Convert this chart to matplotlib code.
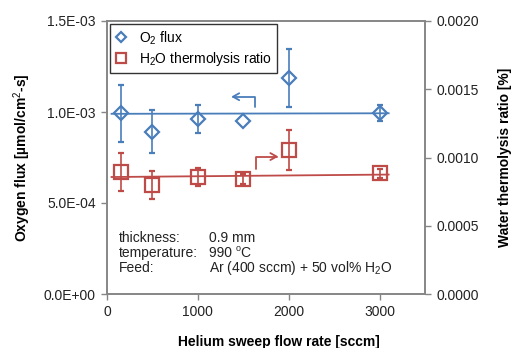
import numpy as np
import matplotlib
matplotlib.use("Agg")
import matplotlib.pyplot as plt
from matplotlib.lines import Line2D
from matplotlib.transforms import offset_copy

plt.rcParams['font.family'] = ['Liberation Sans', 'DejaVu Sans']
plt.rcParams['mathtext.fontset'] = 'custom'
plt.rcParams['mathtext.rm'] = 'Liberation Sans'
plt.rcParams['mathtext.it'] = 'Liberation Sans:italic'
plt.rcParams['mathtext.bf'] = 'Liberation Sans:bold'

# Helium sweep flow rates [sccm]
flow = [150, 500, 1000, 1500, 2000, 3000]

# Oxygen flux [umol/cm2-s] and its error
o2_flux = [0.993e-3, 0.892e-3, 0.962e-3, 0.950e-3, 1.185e-3, 0.993e-3]
o2_err = [0.157e-3, 0.120e-3, 0.077e-3, np.nan, 0.160e-3, 0.045e-3]

# Water thermolysis ratio [%] and its error
h2o_ratio = [0.892e-3, 0.799e-3, 0.859e-3, 0.842e-3, 1.055e-3, 0.883e-3]
h2o_err = [0.140e-3, 0.105e-3, 0.066e-3, 0.037e-3, 0.143e-3, 0.030e-3]

# Trend lines
trend_x = [50, 3100]
o2_trend = [0.990e-3, 0.993e-3]
h2o_trend = [0.857e-3, 0.875e-3]

xticks = [0, 1000, 2000, 3000]
left_ticks = [0.0, 5.0e-4, 1.0e-3, 1.5e-3]
left_ticklabels = ['0.0E+00', '5.0E-04', '1.0E-03', '1.5E-03']
right_ticks = [0.0, 0.0005, 0.0010, 0.0015, 0.0020]
right_ticklabels = ['0.0000', '0.0005', '0.0010', '0.0015', '0.0020']

BLUE = '#4A7EBB'
RED = '#BE4B48'
GREY = '#868686'
TXT = '#222222'
FS = 10

fig = plt.figure(figsize=(5.14, 3.48), dpi=100)
ax = fig.add_axes([107/514, 1 - 294/348, 318/514, 273/348])
ax2 = ax.twinx()

# O2 flux
ax.plot(trend_x, o2_trend, color=BLUE, lw=1.3, zorder=2)
ax.errorbar(flow, o2_flux, yerr=o2_err, fmt='D', ms=7.6, mfc='none',
            mec=BLUE, mew=1.6, ecolor=BLUE, elinewidth=1.2, capsize=2.2,
            capthick=1.2, zorder=3)

# H2O thermolysis ratio
ax2.plot(trend_x, h2o_trend, color=RED, lw=1.3, zorder=2)
ax2.errorbar(flow, h2o_ratio, yerr=h2o_err, fmt='s', ms=10.5, mfc='none',
             mec=RED, mew=1.6, ecolor=RED, elinewidth=1.2, capsize=2.2,
             capthick=1.2, zorder=3)

# Arrows indicating the axis each series belongs to
ax.annotate('', xy=(1366, 1.084e-3), xytext=(1630, 1.026e-3),
            arrowprops=dict(arrowstyle='->,head_length=0.45,head_width=0.25',
                            connectionstyle='angle,angleA=90,angleB=0,rad=0',
                            color=BLUE, lw=1.3, shrinkA=0, shrinkB=0))
ax2.annotate('', xy=(1887, 1.007e-3), xytext=(1635, 0.916e-3),
             arrowprops=dict(arrowstyle='->,head_length=0.45,head_width=0.25',
                             connectionstyle='angle,angleA=90,angleB=0,rad=0',
                             color=RED, lw=1.3, shrinkA=0, shrinkB=0))

ax.set_xlim(0, 3500)
ax.set_ylim(0, 1.5e-3)
ax2.set_ylim(0, 0.002)

ax.set_xticks(xticks)
ax.set_xticklabels([str(v) for v in xticks], fontsize=FS)
ax.set_yticks(left_ticks)
ax.set_yticklabels(left_ticklabels, fontsize=FS)
ax2.set_yticks(right_ticks)
ax2.set_yticklabels(right_ticklabels, fontsize=FS)

for a in (ax, ax2):
    for s in a.spines.values():
        s.set_color(GREY)
        s.set_linewidth(1.2)
    a.tick_params(axis='both', direction='out', length=4, width=1.0,
                  color=GREY, labelcolor=TXT, pad=4)

ax.set_xlabel('Helium sweep flow rate [sccm]', fontsize=FS, fontweight='bold')
ax.xaxis.set_label_coords(0.541, -0.152)
ax.set_ylabel('Oxygen flux [µmol/cm$^{2}$-s]', fontsize=FS, fontweight='bold',
              labelpad=8)
ax2.set_ylabel('Water thermolysis ratio [%]', fontsize=FS, fontweight='bold',
               labelpad=14)

handles = [
    Line2D([], [], ls='none', marker='D', ms=5.5, mfc='none', mec=BLUE, mew=1.6),
    Line2D([], [], ls='none', marker='s', ms=6.5, mfc='none', mec=RED, mew=1.6),
]
leg = ax.legend(handles, ['O$_2$ flux', 'H$_2$O thermolysis ratio'],
                loc='upper left', bbox_to_anchor=(0.008, 0.988),
                fontsize=FS, frameon=True, fancybox=False, handlelength=1.0,
                handletextpad=0.8, labelspacing=0.25, borderpad=0.35,
                borderaxespad=0.0)
leg.get_frame().set_edgecolor('black')
leg.get_frame().set_linewidth(1.0)

# Experimental conditions
key_x, val_x = 0.038, 0.32
row_y = [0.204, 0.149, 0.096]
ax.text(key_x, row_y[0], 'thickness:', transform=ax.transAxes, fontsize=FS,
        va='center', color=TXT)
ax.text(val_x, row_y[0], '0.9 mm', transform=ax.transAxes, fontsize=FS,
        va='center', color=TXT)
ax.text(key_x, row_y[1], 'temperature:', transform=ax.transAxes, fontsize=FS,
        va='center', color=TXT)
ax.text(key_x, row_y[2], 'Feed:', transform=ax.transAxes, fontsize=FS,
        va='center', color=TXT)
ax.text(val_x, row_y[2], 'Ar (400 sccm) + 50 vol% H$_2$O',
        transform=ax.transAxes, fontsize=FS, va='center', color=TXT)

# "990 °C" with a small raised o, built from three pieces
fig.canvas.draw()
renderer = fig.canvas.get_renderer()
t1 = ax.text(val_x, row_y[1], '990 ', transform=ax.transAxes, fontsize=FS,
             va='center', color=TXT)
w1 = t1.get_window_extent(renderer).width * 72 / fig.dpi
t2 = ax.text(val_x, row_y[1], 'o',
             transform=offset_copy(ax.transAxes, fig=fig, x=w1, y=3.2,
                                   units='points'),
             fontsize=6.5, va='center', color=TXT)
w2 = t2.get_window_extent(renderer).width * 72 / fig.dpi
ax.text(val_x, row_y[1], 'C',
        transform=offset_copy(ax.transAxes, fig=fig, x=w1 + w2, y=0,
                              units='points'),
        fontsize=FS, va='center', color=TXT)

fig.savefig('out.png', dpi=100)
